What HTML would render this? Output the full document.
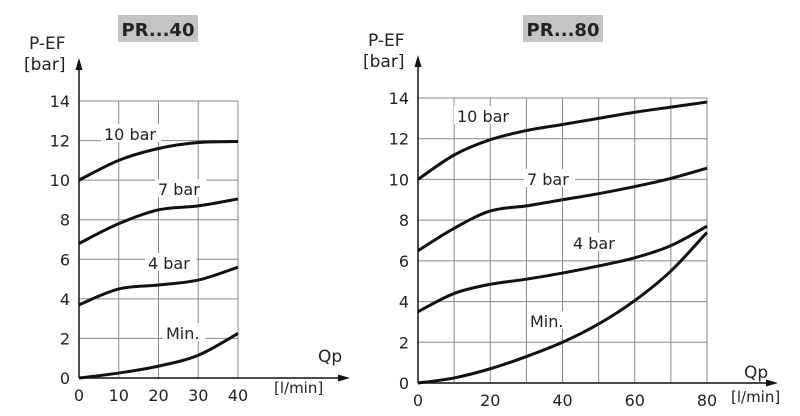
<!DOCTYPE html>
<html><head><meta charset="utf-8"><style>
body{margin:0;background:#fff}
svg{display:block;font-family:"DejaVu Sans","Liberation Sans",sans-serif}
</style></head><body>
<svg id="s" width="800" height="416" viewBox="0 0 800 416" xmlns="http://www.w3.org/2000/svg">
<rect x="118" y="15" width="80" height="27" fill="#c4c4c4"/>
<text x="158" y="36" text-anchor="middle" font-size="18" font-weight="bold" fill="#222">PR...40</text>
<rect x="523" y="15" width="80" height="27" fill="#c4c4c4"/>
<text x="563" y="36" text-anchor="middle" font-size="18" font-weight="bold" fill="#222">PR...80</text>
<g id="g"></g>
</svg>
<script>
var g=document.getElementById('g'),h='';
function chart(x0,x1,xmax,xstep,y0,y14,curves,labels,ax,yl,qx,lx){
  var sx=function(v){return x0+(x1-x0)*v/xmax},sy=function(v){return y0+(y14-y0)*v/14};
  for(var v=xstep;v<=xmax;v+=xstep)h+='<line x1="'+sx(v)+'" y1="'+y14+'" x2="'+sx(v)+'" y2="'+y0+'" stroke="#888" stroke-width="1"/>';
  for(var b=2;b<=14;b+=2)h+='<line x1="'+x0+'" y1="'+sy(b)+'" x2="'+x1+'" y2="'+sy(b)+'" stroke="#888" stroke-width="1"/>';
  for(var b=0;b<=14;b+=2)h+='<text x="'+(x0-9)+'" y="'+(sy(b)+6)+'" text-anchor="end" font-size="16" fill="#222">'+b+'</text>';
  for(var v=0;v<=xmax;v+=(xmax==40?10:20))h+='<text x="'+sx(v)+'" y="'+(y0+23)+'" text-anchor="middle" font-size="16" fill="#222">'+v+'</text>';
  labels.forEach(function(l){h+='<rect x="'+(l[0]-3)+'" y="'+(l[1]-13)+'" width="'+(l[3]*9+6)+'" height="18" fill="#fff"/><text x="'+l[0]+'" y="'+(l[1]+3)+'" font-size="16" fill="#222">'+l[2]+'</text>';});
  curves.forEach(function(c){
    var p=c.map(function(q){return [sx(q[0]),sy(q[1])]}),d='M'+p[0][0]+','+p[0][1];
    for(var i=0;i<p.length-1;i++){var a=p[i-1]||p[i],b=p[i],cc=p[i+1],e=p[i+2]||cc;
      d+='C'+(b[0]+(cc[0]-a[0])/6)+','+(b[1]+(cc[1]-a[1])/6)+' '+(cc[0]-(e[0]-b[0])/6)+','+(cc[1]-(e[1]-b[1])/6)+' '+cc[0]+','+cc[1];}
    h+='<path d="'+d+'" fill="none" stroke="#111" stroke-width="3"/>';
  });
  h+='<line x1="'+x0+'" y1="'+(yl+6)+'" x2="'+x0+'" y2="'+y0+'" stroke="#111" stroke-width="1.5"/><path d="M'+(x0-3.5)+','+(yl+12)+'L'+x0+','+yl+'L'+(x0+3.5)+','+(yl+12)+'Z" fill="#111"/>';
  h+='<line x1="'+x0+'" y1="'+y0+'" x2="'+(ax-6)+'" y2="'+y0+'" stroke="#111" stroke-width="1.5"/><path d="M'+(ax-12)+','+(y0-3.5)+'L'+ax+','+y0+'L'+(ax-12)+','+(y0+3.5)+'Z" fill="#111"/>';
  h+='<text x="'+(x0-50)+'" y="'+(yl-9)+'" font-size="17" fill="#222">P-EF</text><text x="'+(x0-55)+'" y="'+(yl+12)+'" font-size="17" fill="#222">[bar]</text>';
  h+='<text x="'+qx[0]+'" y="'+qx[1]+'" font-size="17" fill="#222">Qp</text><text x="'+lx[0]+'" y="'+lx[1]+'" font-size="15" fill="#222">[l/min]</text>';
}
chart(79,238,40,10,378,101,[
 [[0,10],[10,11],[20,11.6],[30,11.9],[40,11.95]],
 [[0,6.8],[10,7.8],[20,8.5],[30,8.7],[40,9.05]],
 [[0,3.7],[10,4.5],[20,4.7],[30,4.95],[40,5.6]],
 [[0,0],[10,0.25],[20,0.6],[30,1.15],[40,2.25]]],
 [[104,137,'10 bar',6],[158,192,'7 bar',5],[148,266,'4 bar',5],[166,336,'Min.',4]],350,58,[318,362],[274,393]);
chart(418,707,80,10,383,98,[
 [[0,10],[10,11.2],[20,11.95],[30,12.4],[40,12.7],[50,13],[60,13.3],[70,13.55],[80,13.8]],
 [[0,6.5],[10,7.6],[20,8.45],[30,8.7],[40,9],[50,9.3],[60,9.65],[70,10.05],[80,10.55]],
 [[0,3.5],[10,4.4],[20,4.85],[30,5.1],[40,5.4],[50,5.75],[60,6.15],[70,6.75],[80,7.7]],
 [[0,0],[10,0.25],[20,0.7],[30,1.3],[40,2],[50,2.9],[60,4.05],[70,5.5],[80,7.4]]],
 [[457,119,'10 bar',6],[527,182,'7 bar',5],[573,246,'4 bar',5],[530,324,'Min.',4]],778,55,[744,378],[731,402]);
g.innerHTML=h;
</script>
</body></html>
